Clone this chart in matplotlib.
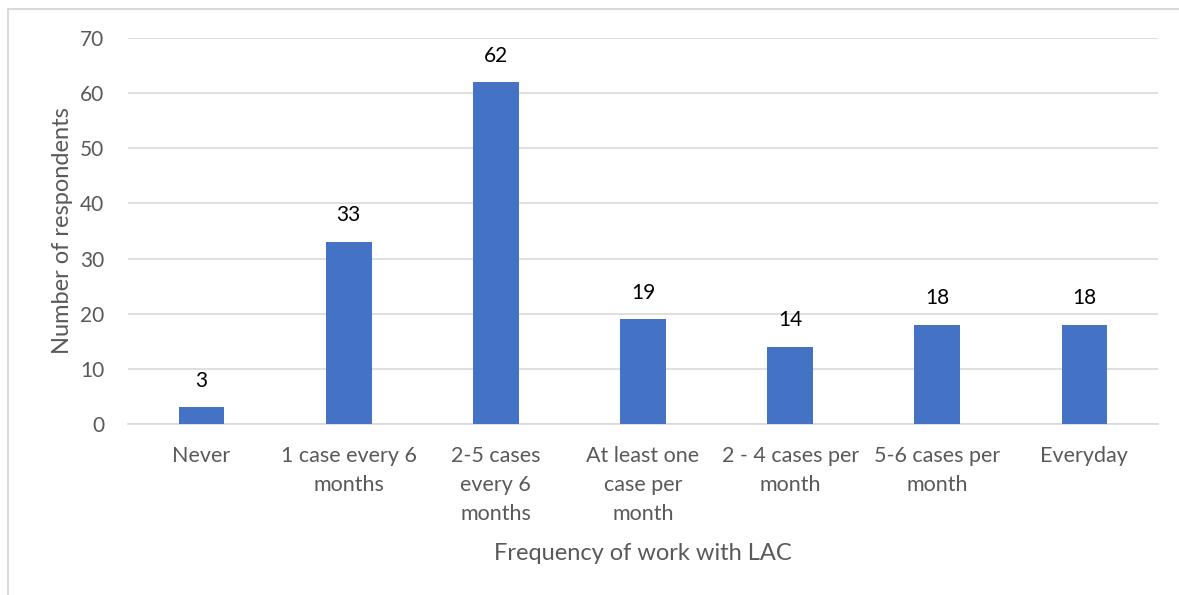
import matplotlib.pyplot as plt
from matplotlib.patches import Rectangle

# Antworten je Kategorie
categories = ['Never', '1 case every 6\nmonths', '2-5 cases\nevery 6\nmonths',
              'At least one\ncase per\nmonth', '2 - 4 cases per\nmonth',
              '5-6 cases per\nmonth', 'Everyday']
respondents = [3, 33, 62, 19, 14, 18, 18]
y_ticks = [0, 10, 20, 30, 40, 50, 60, 70]

plt.rcParams['font.family'] = ['Lato', 'DejaVu Sans']

fig = plt.figure(figsize=(11.79, 5.95), dpi=100)
W, H = 1179, 595

# dünner grauer Rahmen um das Diagramm
fig.patches.append(Rectangle((8 / W, -0.1), 1.2, (595 - 9) / H + 0.1,
                             transform=fig.transFigure, fill=False,
                             edgecolor='#d9d9d9', linewidth=1.5))

ax = fig.add_axes([128 / W, (595 - 424) / H, (1158 - 128) / W, (424 - 38) / H])

x = range(len(categories))
ax.bar(x, respondents, width=0.31, color='#4472C4', zorder=3)
for xi, v in zip(x, respondents):
    ax.text(xi, v + 3.0, str(v), ha='center', va='bottom', fontsize=15, color='black')

ax.set_xlim(-0.5, len(categories) - 0.5)
ax.set_ylim(0, 70)
ax.set_yticks(y_ticks)
ax.set_xticks(list(x))
ax.set_xticklabels(categories, fontsize=15.5, color='#595959', linespacing=1.55)
ax.tick_params(axis='y', labelsize=15, labelcolor='#595959', length=0, pad=17)
ax.tick_params(axis='x', length=0, pad=16)
ax.grid(axis='y', color='#d9d9d9', linewidth=1.2, zorder=0)
for s in ['top', 'right', 'left']:
    ax.spines[s].set_visible(False)
ax.spines['bottom'].set_color('#d9d9d9')
ax.spines['bottom'].set_linewidth(1.2)

ax.set_ylabel('Number of respondents', fontsize=17, color='#595959', labelpad=5)
ax.set_xlabel('Frequency of work with LAC', fontsize=17, color='#595959', labelpad=14)

fig.savefig('out.png', dpi=100)
